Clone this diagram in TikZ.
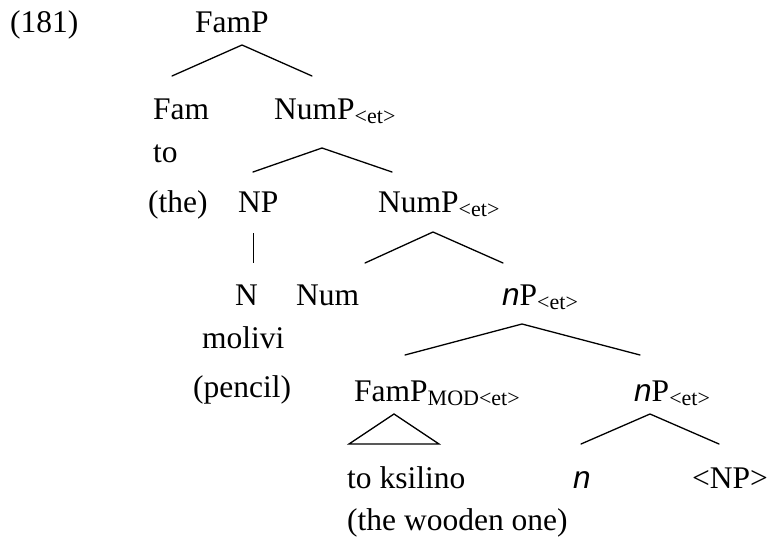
\documentclass[tikz,border=0pt]{standalone}
\usepackage{fontspec}
\setmainfont{Liberation Serif}
\newfontfamily\arialit{Liberation Sans}[UprightFont=*-Italic]
\newcommand\subx[1]{\raisebox{-4pt}{\fontsize{22}{24}\selectfont #1}}
\newcommand\ital[1]{{\arialit #1}}
\begin{document}
\begin{tikzpicture}[x=1pt,y=-1pt,
  lbl/.style={anchor=base west,inner sep=0pt,font=\fontsize{31.5}{36}\selectfont},
  branch/.style={line width=1.3pt,line cap=round}]
\useasboundingbox (0,0) rectangle (767,537);
% labels
\node[lbl] (ex) at (10,33) {(181)};
\node[lbl] (famp) at (195,33) {FamP};
\node[lbl] (fam) at (153,120) {Fam};
\node[lbl] (nump1) at (274,120) {NumP\subx{<et>}};
\node[lbl] (to) at (153,163) {to};
\node[lbl] (the) at (148,212) {(the)};
\node[lbl] (np) at (238,212) {NP};
\node[lbl] (nump2) at (378,212) {NumP\subx{<et>}};
\node[lbl] (n1) at (235,305) {N};
\node[lbl] (num) at (296,305) {Num};
\node[lbl] (np1) at (502,305) {\ital{n}P\subx{<et>}};
\node[lbl] (molivi) at (202,348) {molivi};
\node[lbl] (pencil) at (193,397) {(pencil)};
\node[lbl] (fampmod) at (354,401) {FamP\subx{MOD<et>}};
\node[lbl] (np2) at (634,401) {\ital{n}P\subx{<et>}};
\node[lbl] (ksilino) at (347,488) {to ksilino};
\node[lbl] (nhead) at (573,488) {\ital{n}};
\node[lbl] (trace) at (692,488) {<NP>};
\node[lbl] (gloss) at (347,530) {(the wooden one)};
% branch points
\coordinate (a1) at (242,45);  \coordinate (a1l) at (172,76);  \coordinate (a1r) at (312,76);
\coordinate (a2) at (322,148); \coordinate (a2l) at (253,172); \coordinate (a2r) at (392,172);
\coordinate (v1) at (253,233); \coordinate (v2) at (253,263);
\coordinate (a3) at (433,232); \coordinate (a3l) at (365,263); \coordinate (a3r) at (503,263);
\coordinate (a4) at (522,324); \coordinate (a4l) at (405,355); \coordinate (a4r) at (640,355);
\coordinate (t1) at (394,414); \coordinate (t2) at (349,444); \coordinate (t3) at (439,444);
\coordinate (a5) at (650,414); \coordinate (a5l) at (581,444); \coordinate (a5r) at (719,444);
% branches
\draw[branch] (a1l) -- (a1) -- (a1r);
\draw[branch] (a2l) -- (a2) -- (a2r);
\draw[line width=0.9pt] (v1) -- (v2);
\draw[branch] (a3l) -- (a3) -- (a3r);
\draw[branch] (a4l) -- (a4) -- (a4r);
\draw[branch,line join=miter] (t1) -- (t2) -- (t3) -- cycle;
\draw[branch] (a5l) -- (a5) -- (a5r);
\end{tikzpicture}
\end{document}
